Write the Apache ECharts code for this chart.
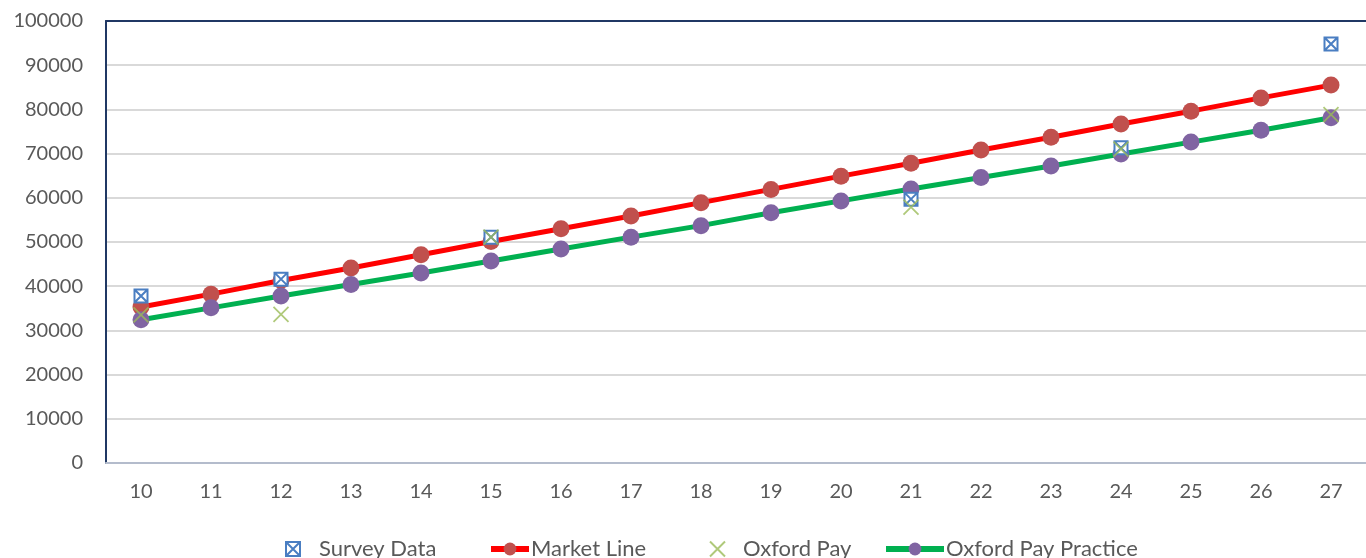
<!DOCTYPE html>
<html>
<head>
<meta charset="utf-8">
<script src="https://cdn.jsdelivr.net/npm/echarts@6/dist/echarts.min.js"></script>
<style>html,body{margin:0;padding:0;background:#fff;}#c{width:1366px;height:558px;}</style>
</head>
<body>
<div id="c"></div>
<script>
var categories = ['10','11','12','13','14','15','16','17','18','19','20','21','22','23','24','25','26','27'];
var surveyData = [37800, null, 41600, null, null, 51100, null, null, null, null, null, 59700, null, null, 71300, null, null, 94800];
var marketLine = [35300, 38200, 41300, 44100, 47100, 50100, 53000, 55900, 58900, 61900, 64900, 67800, 70800, 73700, 76700, 79600, 82600, 85500];
var oxfordPay = [33500, null, 33600, null, null, 51100, null, null, null, null, null, 57900, null, null, 71000, null, null, 78800];
var oxfordPractice = [32400, 35100, 37800, 40400, 43000, 45700, 48400, 51100, 53700, 56600, 59300, 62000, 64600, 67200, 69900, 72600, 75300, 78100];
var yTicks = {min: 0, max: 100000, interval: 10000};

var FONT = 'Lato, "Open Sans", sans-serif';
var surveySymbol = 'path://M0,0L10,0L10,10L0,10Z M0,0L10,10 M10,0L0,10';
var xSymbol = 'path://M0,0L10,10M10,0L0,10';

function legendAt(name, left, w, h, gap) {
  return {
    data: [name], left: left, top: 533, itemWidth: w, itemHeight: h,
    lineStyle: {width: 6},
    textStyle: {color: '#595959', fontSize: 22, fontFamily: FONT, padding: [0, 0, 0, gap]},
    selectedMode: false
  };
}

var chart = echarts.init(document.getElementById('c'));
chart.setOption({
  animation: false,
  backgroundColor: '#fff',
  grid: {left: 106, right: 0, top: 21, bottom: 95, containLabel: false},
  legend: [
    legendAt('Survey Data', 280, 14, 14, 14),
    legendAt('Market Line', 483, 38, 16, -3),
    legendAt('Oxford Pay', 704, 15, 15, 13),
    legendAt('Oxford Pay Practice', 878, 58, 16, -3)
  ],
  xAxis: [{
    type: 'category', data: categories, boundaryGap: true, position: 'bottom',
    axisLine: {lineStyle: {color: '#B4BCCC', width: 2}},
    axisTick: {show: false},
    axisLabel: {color: '#595959', fontSize: 20, fontFamily: FONT, margin: 19},
    splitLine: {show: false}
  }, {
    type: 'category', data: categories, boundaryGap: true, position: 'top',
    axisLine: {lineStyle: {color: '#203864', width: 2}},
    axisTick: {show: false}, axisLabel: {show: false}, splitLine: {show: false}
  }],
  yAxis: {
    type: 'value', min: yTicks.min, max: yTicks.max, interval: yTicks.interval,
    axisLine: {show: true, lineStyle: {color: '#203864', width: 2}},
    axisTick: {show: false},
    axisLabel: {color: '#595959', fontSize: 20, fontFamily: FONT, margin: 23,
      formatter: function (v) { return String(v); }},
    splitLine: {lineStyle: {color: '#D9D9D9', width: 2}}
  },
  series: [
    {
      name: 'Survey Data', type: 'scatter', data: surveyData, z: 4,
      symbol: surveySymbol, symbolSize: 13,
      itemStyle: {color: '#FFFFFF', borderColor: '#4A7EC2', borderWidth: 2, opacity: 1}
    },
    {
      name: 'Market Line', type: 'line', data: marketLine, z: 2,
      symbol: 'circle', symbolSize: 17, showAllSymbol: true,
      itemStyle: {color: '#C0504D', borderWidth: 0},
      lineStyle: {color: '#FF0000', width: 5}
    },
    {
      name: 'Oxford Pay', type: 'scatter', data: oxfordPay, z: 5,
      symbol: xSymbol, symbolSize: 15,
      itemStyle: {color: 'rgba(0,0,0,0)', borderColor: '#9BBB59', borderWidth: 1.8}
    },
    {
      name: 'Oxford Pay Practice', type: 'line', data: oxfordPractice, z: 3,
      symbol: 'circle', symbolSize: 17, showAllSymbol: true,
      itemStyle: {color: '#8064A2', borderWidth: 0},
      lineStyle: {color: '#00B050', width: 5}
    }
  ]
});
</script>
</body>
</html>
